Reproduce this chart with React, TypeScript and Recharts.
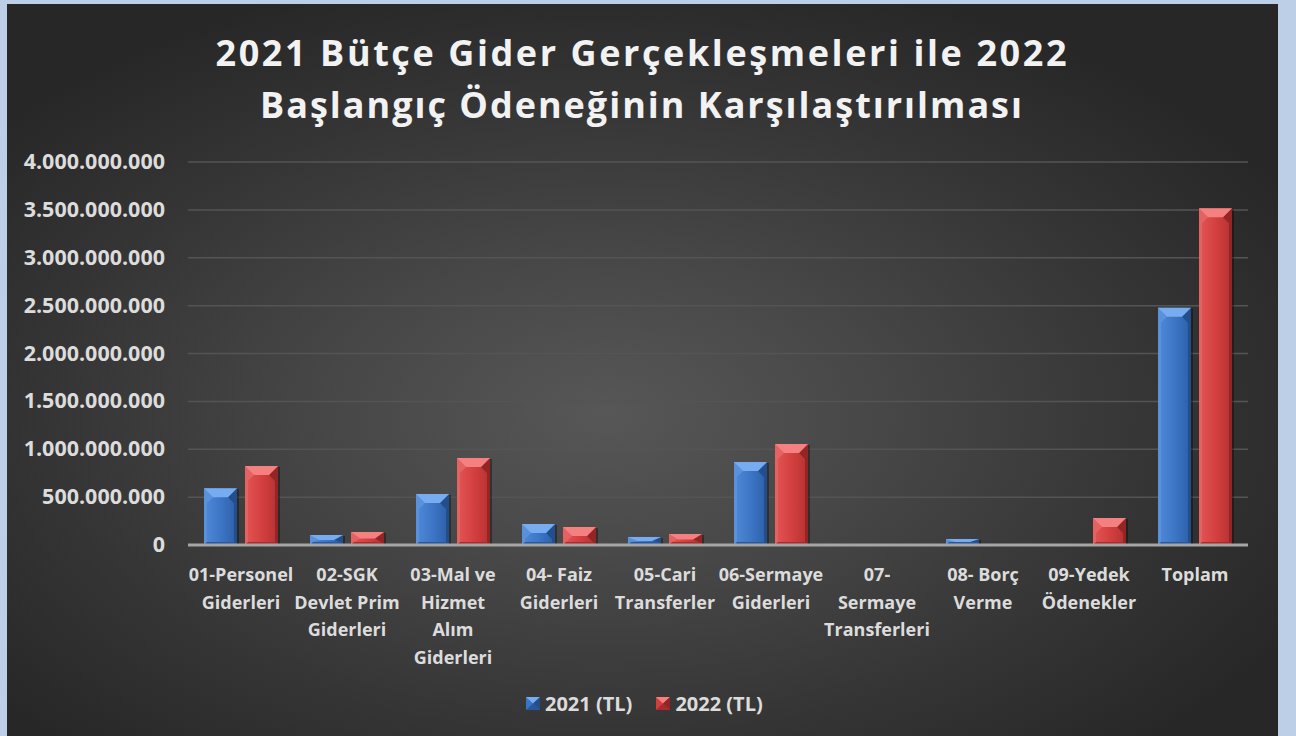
import React from 'react';
import { BarChart, Bar, XAxis, YAxis, CartesianGrid } from 'recharts';

// wrapped tick labels, one array per category
const CATEGORY_LINES = [
  ['01-Personel', 'Giderleri'],
  ['02-SGK', 'Devlet Prim', 'Giderleri'],
  ['03-Mal ve', 'Hizmet', 'Alım', 'Giderleri'],
  ['04- Faiz', 'Giderleri'],
  ['05-Cari', 'Transferler'],
  ['06-Sermaye', 'Giderleri'],
  ['07-', 'Sermaye', 'Transferleri'],
  ['08- Borç', 'Verme'],
  ['09-Yedek', 'Ödenekler'],
  ['Toplam'],
];
const categories = CATEGORY_LINES.map((l) => l.join(' '));

const values2021 = [592e6, 104e6, 533e6, 219e6, 84e6, 867e6, 0, 63e6, 0, 2478e6];
const values2022 = [825e6, 136e6, 909e6, 188e6, 115e6, 1055e6, 3e6, 0, 282e6, 3516e6];

const yTicks = [0, 5e8, 1e9, 1.5e9, 2e9, 2.5e9, 3e9, 3.5e9, 4e9];

const data = categories.map((name, i) => ({
  name,
  y2021: values2021[i],
  y2022: values2022[i],
}));

const FONT = '"Open Sans", "Noto Sans", sans-serif';

const PALETTES: Record<string, any> = {
  blue: { id: 'gBlue', f0: '#4f8ad8', f1: '#3b74c3', f2: '#2c5ea6', top: '#78acf0', left: '#5a91db', right: '#234e8c', bottom: '#2a579a' },
  red: { id: 'gRed', f0: '#e35555', f1: '#d23e3e', f2: '#b53131', top: '#f58080', left: '#e56262', right: '#922525', bottom: '#a62d2d' },
};

const fmt = (v: number) => String(Math.round(v)).replace(/\B(?=(\d{3})+(?!\d))/g, '.');

const BevelBar = (props: any) => {
  const { x, y, width: w, height: h, pal } = props;
  const p = PALETTES[pal];
  if (!h || h <= 0) return null;
  if (h < 1.5) {
    return <rect x={x} y={y} width={w} height={Math.max(h, 1)} fill={p.top} opacity={0.45} />;
  }
  const bt = Math.min(9, h / 2);
  const bi = Math.min(9, w / 2);
  const s = Math.min(3, w / 2);
  const bb = Math.min(3, h / 2);
  const sideY = Math.min(y + bt + 6, y + h - bb);
  return (
    <g>
      <rect x={x + w} y={y + 1} width={2} height={h - 1} fill="rgba(0,0,0,0.35)" />
      <rect x={x} y={y} width={w} height={h} fill={`url(#${p.id})`} />
      <polygon points={`${x},${y} ${x + bi},${y + bt} ${x + s},${sideY} ${x + s},${y + h - bb} ${x},${y + h}`} fill={p.left} />
      <polygon points={`${x + w},${y} ${x + w - bi},${y + bt} ${x + w - s},${sideY} ${x + w - s},${y + h - bb} ${x + w},${y + h}`} fill={p.right} />
      <polygon points={`${x},${y + h} ${x + s},${y + h - bb} ${x + w - s},${y + h - bb} ${x + w},${y + h}`} fill={p.bottom} />
      <polygon points={`${x},${y} ${x + w},${y} ${x + w - bi},${y + bt} ${x + bi},${y + bt}`} fill={p.top} />
    </g>
  );
};

const YTick = (props: any) => {
  const { x, y, payload } = props;
  return (
    <text x={x} y={y} dy={7} textAnchor="end" fill="#dcdcdc" fontFamily={FONT} fontWeight={700} fontSize={21.5}>
      {fmt(payload.value)}
    </text>
  );
};

const XTick = (props: any) => {
  const { x, y, index } = props;
  const lines = CATEGORY_LINES[index] || [];
  return (
    <text x={x} y={y} textAnchor="middle" fill="#dcdcdc" fontFamily={FONT} fontWeight={700} fontSize={18}>
      {lines.map((l, i) => (
        <tspan key={i} x={x} y={y + 36 + i * 27.7}>
          {l}
        </tspan>
      ))}
    </text>
  );
};

const LegendMarker = ({ pal }: { pal: string }) => {
  const p = PALETTES[pal];
  return (
    <svg width={14} height={13} style={{ display: 'block' }}>
      <rect x={0} y={0} width={14} height={13} fill={p.f1} />
      <polygon points="0,0 14,0 7,6.5" fill={p.top} />
      <polygon points="0,13 14,13 7,6.5" fill={p.bottom} />
      <polygon points="14,0 14,13 7,6.5" fill={p.right} />
    </svg>
  );
};

export default function App() {
  return (
    <div style={{ position: 'absolute', left: 0, top: 0, width: 1296, height: 736, background: '#bccfe6', overflow: 'hidden' }}>
      <div
        style={{
          position: 'absolute',
          left: 7,
          top: 4,
          width: 1271,
          height: 732,
          background: 'radial-gradient(ellipse 62% 62% at 47% 56%, #575757 0%, #474747 35%, #353535 70%, #272727 100%)',
        }}
      >
        <BarChart
          width={1271}
          height={732}
          data={data}
          margin={{ top: 158, right: 30, bottom: 71, left: 0 }}
          barSize={33}
          barGap={8}
        >
          <defs>
            {Object.values(PALETTES).map((p: any) => (
              <linearGradient key={p.id} id={p.id} x1="0" y1="0" x2="1" y2="0">
                <stop offset="0%" stopColor={p.f0} />
                <stop offset="55%" stopColor={p.f1} />
                <stop offset="100%" stopColor={p.f2} />
              </linearGradient>
            ))}
          </defs>
          <CartesianGrid vertical={false} stroke="#545454" strokeWidth={1.5} />
          <YAxis
            width={181}
            domain={[0, 4e9]}
            ticks={yTicks}
            interval={0}
            axisLine={false}
            tickLine={false}
            tickSize={0}
            tickMargin={23}
            tick={<YTick />}
          />
          <XAxis
            dataKey="name"
            height={120}
            interval={0}
            axisLine={{ stroke: '#a6a6a6', strokeWidth: 3 }}
            tickLine={false}
            tickSize={0}
            tickMargin={0}
            tick={<XTick />}
          />
          <Bar dataKey="y2021" name="2021 (TL)" isAnimationActive={false} shape={(p: any) => <BevelBar {...p} pal="blue" />} />
          <Bar dataKey="y2022" name="2022 (TL)" isAnimationActive={false} shape={(p: any) => <BevelBar {...p} pal="red" />} />
        </BarChart>

        <svg width={1271} height={140} style={{ position: 'absolute', left: 0, top: 0, pointerEvents: 'none' }}>
          <text x={634} y={62} textAnchor="middle" fill="#f2f2f2" fontFamily={FONT} fontWeight={700} fontSize={36} textLength={851} lengthAdjust="spacing">
            2021 Bütçe Gider Gerçekleşmeleri ile 2022
          </text>
          <text x={634} y={114} textAnchor="middle" fill="#f2f2f2" fontFamily={FONT} fontWeight={700} fontSize={36} textLength={762} lengthAdjust="spacing">
            Başlangıç Ödeneğinin Karşılaştırılması
          </text>
        </svg>

        <div
          style={{
            position: 'absolute',
            left: 519,
            top: 685,
            height: 28,
            display: 'flex',
            alignItems: 'center',
            fontFamily: FONT,
            fontWeight: 700,
            fontSize: 20,
            color: '#dcdcdc',
          }}
        >
          <LegendMarker pal="blue" />
          <span style={{ marginLeft: 5, marginRight: 24 }}>2021 (TL)</span>
          <LegendMarker pal="red" />
          <span style={{ marginLeft: 5 }}>2022 (TL)</span>
        </div>
      </div>
    </div>
  );
}
